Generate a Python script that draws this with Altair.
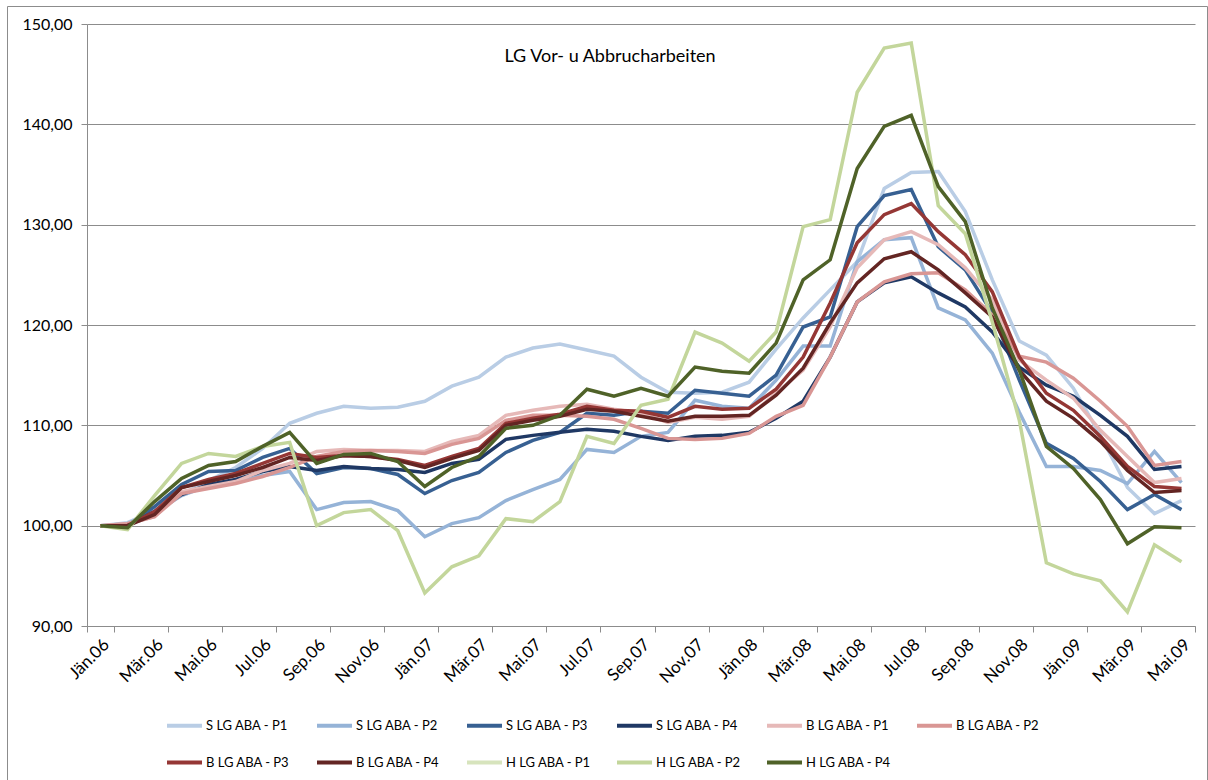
import altair as alt
import pandas as pd

# Monatsachse Jän.06 – Mai.09
month_abbr = ["Jän", "Feb", "Mär", "Apr", "Mai", "Jun", "Jul", "Aug", "Sep", "Okt", "Nov", "Dez"]
months = [f"{m}.{y:02d}" for y in (6, 7, 8, 9) for m in month_abbr][:41]
tick_labels = months[::2]

series_names = [
    "S LG ABA - P1", "S LG ABA - P2", "S LG ABA - P3", "S LG ABA - P4",
    "B LG ABA - P1", "B LG ABA - P2", "B LG ABA - P3", "B LG ABA - P4",
    "H LG ABA - P1", "H LG ABA - P2", "H LG ABA - P4",
]
series_colors = [
    "#B9CDE5", "#95B3D7", "#376092", "#1F3864",
    "#E6B9B8", "#D99694", "#953735", "#632523",
    "#D7E4BD", "#C3D69B", "#4F6228",
]

s_p1 = [100.0, 100.3, 101.5, 103.1, 104.5, 105.8, 107.7, 110.2, 111.2, 111.9, 111.7, 111.8, 112.4, 113.9,
        114.8, 116.8, 117.7, 118.1, 117.5, 116.9, 114.8, 113.3, 113.2, 113.3, 114.3, 117.6, 120.7, 123.5,
        126.3, 133.6, 135.2, 135.3, 131.3, 124.5, 118.4, 117.0, 113.7, 109.0, 103.8, 101.2, 102.5]
s_p2 = [100.0, 100.2, 101.3, 103.0, 104.0, 104.4, 105.0, 105.4, 101.6, 102.3, 102.4, 101.5, 98.9, 100.2,
        100.8, 102.5, 103.6, 104.6, 107.6, 107.3, 108.9, 109.3, 112.5, 111.9, 111.7, 114.5, 117.9, 117.9,
        126.3, 128.5, 128.7, 121.7, 120.5, 117.2, 111.3, 105.9, 105.9, 105.5, 104.2, 107.4, 104.3]
s_p3 = [100.0, 100.0, 101.9, 104.1, 105.4, 105.5, 106.8, 107.7, 105.2, 105.8, 105.7, 105.1, 103.2, 104.5,
        105.3, 107.3, 108.5, 109.3, 111.2, 111.0, 111.4, 111.2, 113.5, 113.2, 112.9, 115.0, 119.8, 120.8,
        129.8, 132.9, 133.5, 127.8, 125.5, 121.2, 114.5, 108.2, 106.7, 104.4, 101.6, 103.1, 101.6]
s_p4 = [100.0, 100.0, 101.4, 103.1, 104.1, 104.6, 105.4, 105.9, 105.5, 105.9, 105.7, 105.6, 105.3, 106.2,
        106.6, 108.6, 109.0, 109.3, 109.6, 109.4, 108.9, 108.5, 108.9, 109.0, 109.3, 110.7, 112.4, 116.8,
        122.3, 124.2, 124.8, 123.2, 121.8, 119.3, 115.8, 114.0, 112.9, 111.0, 108.9, 105.6, 105.9]
b_p1 = [100.0, 100.2, 100.9, 103.4, 103.9, 104.4, 105.5, 106.2, 107.4, 107.6, 107.5, 107.5, 107.4, 108.4,
        109.0, 111.0, 111.5, 111.9, 112.1, 111.6, 111.2, 110.3, 110.8, 110.6, 110.9, 113.2, 115.5, 119.8,
        125.7, 128.5, 129.3, 128.0, 125.7, 122.5, 116.5, 114.5, 112.7, 109.5, 106.9, 104.3, 104.7]
b_p2 = [100.0, 100.2, 100.9, 103.2, 103.7, 104.2, 104.9, 105.8, 106.9, 107.4, 107.5, 107.4, 107.2, 108.1,
        108.7, 110.5, 111.0, 111.0, 110.9, 110.6, 109.7, 108.7, 108.6, 108.7, 109.2, 110.9, 112.0, 116.8,
        122.3, 124.3, 125.1, 125.2, 123.5, 121.0, 116.9, 116.3, 114.7, 112.4, 109.9, 106.0, 106.4]
b_p3 = [100.0, 100.0, 101.4, 103.8, 104.6, 105.2, 106.2, 107.2, 106.8, 107.0, 106.9, 106.6, 106.0, 106.9,
        107.7, 110.2, 110.7, 111.1, 111.9, 111.5, 111.4, 110.8, 111.9, 111.6, 111.7, 113.6, 116.8, 122.2,
        128.2, 131.0, 132.1, 129.3, 127.0, 123.3, 116.8, 113.2, 111.5, 108.9, 105.9, 103.9, 103.7]
b_p4 = [100.0, 100.0, 101.1, 103.8, 104.4, 105.0, 105.8, 106.8, 106.5, 107.0, 106.9, 106.5, 105.8, 106.7,
        107.5, 110.0, 110.5, 110.9, 111.6, 111.4, 110.9, 110.4, 110.9, 110.9, 111.0, 113.0, 115.7, 120.2,
        124.2, 126.6, 127.3, 125.5, 123.2, 120.8, 115.5, 112.4, 110.7, 108.4, 105.5, 103.3, 103.5]
h_p2 = [100.0, 99.6, 103.0, 106.2, 107.2, 106.9, 107.9, 108.3, 100.0, 101.3, 101.6, 99.5, 93.3, 95.9,
        97.0, 100.7, 100.4, 102.4, 108.9, 108.2, 112.0, 112.6, 119.3, 118.2, 116.4, 119.3, 129.8, 130.5,
        143.2, 147.6, 148.1, 131.9, 129.1, 120.3, 110.5, 96.3, 95.2, 94.5, 91.4, 98.1, 96.4]
h_p4 = [100.0, 99.8, 102.4, 104.7, 106.0, 106.4, 107.9, 109.3, 106.2, 107.1, 107.2, 106.4, 103.9, 105.8,
        106.9, 109.7, 110.0, 111.0, 113.6, 112.9, 113.7, 112.9, 115.8, 115.4, 115.2, 118.2, 124.5, 126.5,
        135.6, 139.8, 140.9, 133.8, 130.3, 121.7, 115.5, 107.9, 105.7, 102.6, 98.2, 99.9, 99.8]

# H LG ABA - P1 hat keine Werte und erscheint nur in der Legende
drawn = [
    ("S LG ABA - P1", s_p1), ("S LG ABA - P2", s_p2), ("S LG ABA - P3", s_p3), ("S LG ABA - P4", s_p4),
    ("B LG ABA - P1", b_p1), ("B LG ABA - P2", b_p2), ("B LG ABA - P3", b_p3), ("B LG ABA - P4", b_p4),
    ("H LG ABA - P2", h_p2), ("H LG ABA - P4", h_p4),
]
rows = []
for name, values in drawn:
    for m, v in zip(months, values):
        rows.append({"Monat": m, "Wert": v, "Reihe": name})
df = pd.DataFrame(rows)

grid_grey = "#8C8C8C"
font = "Lato"

lines = alt.Chart(df).mark_line(strokeWidth=3.5).encode(
    x=alt.X(
        "Monat:N",
        sort=months,
        bandPosition=0.5,
        scale=alt.Scale(type="band", domain=months, paddingInner=0, paddingOuter=0),
        axis=alt.Axis(
            title=None, values=tick_labels, tickBand="extent", grid=False,
            labelAngle=-45, labelAlign="right", labelBaseline="top", labelPadding=4,
            labelFont=font, labelFontSize=17, labelColor="#000000",
            domainColor=grid_grey, tickColor=grid_grey, tickSize=6,
        ),
    ),
    y=alt.Y(
        "Wert:Q",
        scale=alt.Scale(domain=[90, 150], nice=False, zero=False),
        axis=alt.Axis(
            title=None, values=[90, 100, 110, 120, 130, 140, 150],
            labelExpr="replace(format(datum.value, '.2f'), '.', ',')",
            labelFont=font, labelFontSize=16, labelColor="#000000", labelPadding=9,
            domainColor=grid_grey, tickColor=grid_grey, tickSize=6,
            gridColor=grid_grey, gridWidth=1,
        ),
    ),
    color=alt.Color(
        "Reihe:N",
        sort=series_names,
        scale=alt.Scale(domain=series_names, range=series_colors),
        legend=alt.Legend(
            title=None, orient="none", legendX=78, legendY=682, direction="horizontal",
            columns=6, gridAlign="all", columnPadding=17, rowPadding=9, padding=0,
            symbolType="stroke", symbolSize=1225, symbolStrokeWidth=4, labelOffset=2,
            labelFont=font, labelFontSize=13, labelColor="#000000",
        ),
    ),
)

title = alt.Chart(pd.DataFrame({"t": ["LG Vor- u Abbrucharbeiten"]})).mark_text(
    font=font, fontSize=18, color="#000000", align="center", baseline="middle"
).encode(text="t:N", x=alt.value(523), y=alt.value(33))

frame = alt.Chart(pd.DataFrame({"f": [0]})).mark_rect(
    fill="transparent", stroke=grid_grey, strokeWidth=1
).encode(x=alt.value(-79.5), x2=alt.value(1120.5), y=alt.value(-17.5), y2=alt.value(760))

chart = alt.layer(frame, lines, title).properties(
    width=1108, height=602,
    autosize=alt.AutoSizeParams(type="none"),
    padding={"left": 87, "top": 24, "right": 13, "bottom": 154},
    background="#FFFFFF",
).configure_view(strokeWidth=0)

chart.save("out.html", embed_options={"renderer": "svg", "actions": False})
